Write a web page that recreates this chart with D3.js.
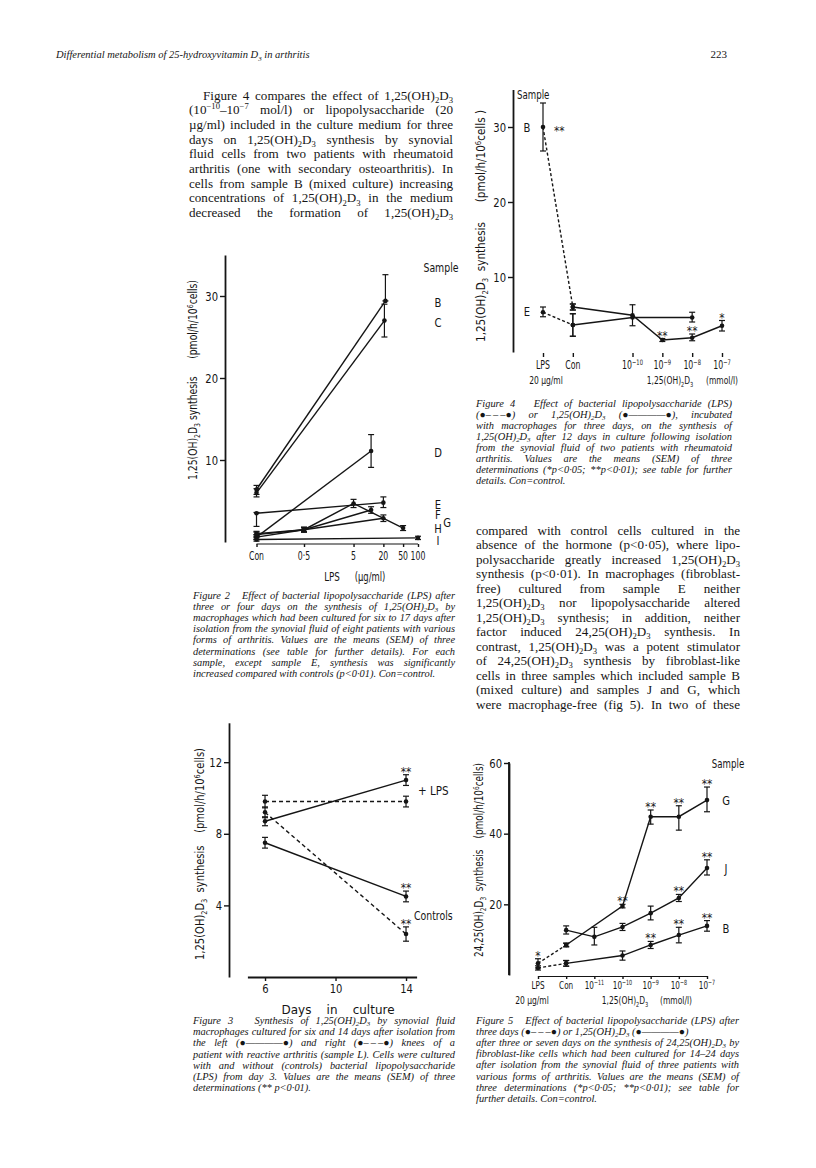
<!DOCTYPE html>
<html><head><meta charset="utf-8">
<script src="https://cdn.jsdelivr.net/npm/d3@7"></script>
<style>body{margin:0;background:#fff}svg{display:block}</style>
</head><body>
<svg id="page" width="816" height="1168"></svg>
<script>
// ================= DATA =================
const headerTitle = "Differential metabolism of 25-hydroxyvitamin D_3 in arthritis";
const pageNumber = "223";

const leftParagraph = [
  "Figure 4 compares the effect of 1,25(OH)_2D_3",
  "(10^{−10}–10^{−7} mol/l) or lipopolysaccharide (20",
  "µg/ml) included in the culture medium for three",
  "days on 1,25(OH)_2D_3 synthesis by synovial",
  "fluid cells from two patients with rheumatoid",
  "arthritis (one with secondary osteoarthritis). In",
  "cells from sample B (mixed culture) increasing",
  "concentrations of 1,25(OH)_2D_3 in the medium",
  "decreased the formation of 1,25(OH)_2D_3"
];
const rightParagraph = [
  "compared with control cells cultured in the",
  "absence of the hormone (p<0·05), where lipo-",
  "polysaccharide greatly increased 1,25(OH)_2D_3",
  "synthesis (p<0·01). In macrophages (fibroblast-",
  "free) cultured from sample E neither",
  "1,25(OH)_2D_3 nor lipopolysaccharide altered",
  "1,25(OH)_2D_3 synthesis; in addition, neither",
  "factor induced 24,25(OH)_2D_3 synthesis. In",
  "contrast, 1,25(OH)_2D_3 was a potent stimulator",
  "of 24,25(OH)_2D_3 synthesis by fibroblast-like",
  "cells in three samples which included sample B",
  "(mixed culture) and samples J and G, which",
  "were macrophage-free (fig 5). In two of these"
];
const DASHED = "●–\u2009–\u2009–●";
const SOLID = "●————●";
const fig2Caption = [
  "Figure 2   Effect of bacterial lipopolysaccharide (LPS) after",
  "three or four days on the synthesis of 1,25(OH)_2D_3 by",
  "macrophages which had been cultured for six to 17 days after",
  "isolation from the synovial fluid of eight patients with various",
  "forms of arthritis. Values are the means (SEM) of three",
  "determinations (see table for further details). For each",
  "sample, except sample E, synthesis was significantly",
  "increased compared with controls (p<0·01). Con=control."
];
const fig4Caption = [
  "Figure 4   Effect of bacterial lipopolysaccharide (LPS)",
  "(" + DASHED + ") or 1,25(OH)_2D_3 (" + SOLID + "), incubated",
  "with macrophages for three days, on the synthesis of",
  "1,25(OH)_2D_3 after 12 days in culture following isolation",
  "from the synovial fluid of two patients with rheumatoid",
  "arthritis. Values are the means (SEM) of three",
  "determinations (*p<0·05; **p<0·01); see table for further",
  "details. Con=control."
];
const fig3Caption = [
  "Figure 3   Synthesis of 1,25(OH)_2D_3 by synovial fluid",
  "macrophages cultured for six and 14 days after isolation from",
  "the left (" + SOLID + ") and right (" + DASHED + ") knees of a",
  "patient with reactive arthritis (sample L). Cells were cultured",
  "with and without (controls) bacterial lipopolysaccharide",
  "(LPS) from day 3. Values are the means (SEM) of three",
  "determinations (** p<0·01)."
];
const fig5Caption = [
  "Figure 5   Effect of bacterial lipopolysaccharide (LPS) after",
  "three days (" + DASHED + ") or 1,25(OH)_2D_3 (" + SOLID + ")",
  "after three or seven days on the synthesis of 24,25(OH)_2D_3 by",
  "fibroblast-like cells which had been cultured for 14–24 days",
  "after isolation from the synovial fluid of three patients with",
  "various forms of arthritis. Values are the means (SEM) of",
  "three determinations (*p<0·05; **p<0·01); see table for",
  "further details. Con=control."
];

// Figure 2: LPS dose (µg/ml); "Con" sits at a nominal 0.055 on the log axis
const fig2TickLabels = ["Con", "0·5", "5", "20", "50", "100"];
const fig2TickConc = [0.055, 0.5, 5, 20, 50, 100];
const fig2YTicks = [10, 20, 30];
const fig2Names = ["B", "C", "D", "E", "F", "G", "H", "I"];
const fig2X  = [[0.055, 22], [0.055, 21], [0.055, 11.3], [0.055, 20], [0.055, 0.5, 11.3], [0.055, 0.5, 20], [0.055, 0.5, 5, 50], [0.055, 100]];
const fig2Y  = [[6.4, 29.4], [6.0, 27.0], [0.6, 11.1], [3.5, 4.8], [0.9, 1.5, 3.9], [0.6, 1.5, 2.9], [1.0, 1.5, 4.7, 1.7], [0.3, 0.5]];
const fig2Lo = [[5.8, 29.4], [5.5, 25.0], [0.3, 9.1], [1.9, 4.2], [0.6, 1.2, 3.5], [0.3, 1.2, 2.5], [0.7, 1.3, 4.2, 1.4], [0.1, 0.3]];
const fig2Hi = [[6.9, 32.6], [6.5, 29.0], [0.9, 13.1], [3.6, 5.5], [1.2, 1.8, 4.3], [0.9, 1.8, 3.3], [1.3, 1.7, 5.2, 2.0], [0.5, 0.7]];
const fig2LabelValues = [29.3, 26.8, 11.0, 4.6, 3.4, 2.4, 1.7, 0.3];

// Figure 4: categories placed by log10 concentration
const fig4Cats = ["LPS", "Con", "10^{−10}", "10^{−9}", "10^{−8}", "10^{−7}"];
const fig4CatPos = [-13, -12, -10, -9, -8, -7];
const fig4YTicks = [10, 20, 30];
const fig4SeriesNames = ["B (LPS)", "B", "E (LPS)", "E"];
const fig4Dashed = [true, false, true, false];
const fig4X  = [[-13, -12], [-12, -10, -9, -8, -7], [-13, -12], [-12, -10, -8]];
const fig4Y  = [[30.0, 6.0], [6.0, 4.9, 1.6, 1.9, 3.5], [5.3, 3.6], [3.6, 4.6, 4.6]];
const fig4Lo = [[26.8, 5.6], [5.6, 3.5, 1.4, 1.5, 2.8], [4.7, 2.1], [2.1, 4.6, 4.0]];
const fig4Hi = [[33.2, 6.4], [6.4, 6.3, 1.8, 2.4, 4.2], [6.0, 5.1], [5.1, 4.6, 5.3]];
const fig4Stars = [["", ""], ["", "", "**", "**", "*"], ["", ""], ["", "", ""]];

// Figure 3: days in culture
const fig3XTicks = [6, 10, 14];
const fig3YTicks = [4, 8, 12];
const fig3Days = [6, 14];
const fig3SeriesNames = ["left knee + LPS", "left knee control", "right knee + LPS", "right knee control"];
const fig3Dashed = [false, false, true, true];
const fig3Y   = [[8.7, 11.0], [7.5, 4.5], [9.8, 9.8], [9.2, 2.4]];
const fig3Err = [[0.25, 0.3], [0.3, 0.3], [0.35, 0.3], [0.3, 0.4]];
const fig3Stars = [["", "**"], ["", "**"], ["", ""], ["", "**"]];

// Figure 5
const fig5Cats = ["LPS", "Con", "10^{−11}", "10^{−10}", "10^{−9}", "10^{−8}", "10^{−7}"];
const fig5YTicks = [20, 40, 60];
const fig5SeriesNames = ["G (LPS)", "B (LPS)", "G", "J", "B"];
const fig5Dashed = [true, true, false, false, false];
const fig5X = [[0, 1], [0, 1], [1, 3, 4, 5, 6], [1, 2, 3, 4, 5, 6], [1, 3, 4, 5, 6]];
const fig5Y  = [[3.3, 8.5], [2.0, 3.3], [8.5, 19.5, 44.8, 44.8, 49.5], [12.7, 10.8, 13.6, 17.5, 21.8, 30.3], [3.3, 5.5, 8.5, 11.3, 13.9]];
const fig5Lo = [[2.0, 8.0], [1.4, 2.5], [8.0, 19.0, 42.7, 41.0, 46.2], [11.6, 8.5, 12.6, 15.6, 20.8, 28.3], [2.5, 4.2, 7.5, 9.1, 12.4]];
const fig5Hi = [[4.6, 9.0], [2.6, 4.1], [9.0, 20.0, 46.7, 47.9, 53.2], [13.9, 13.5, 14.6, 19.5, 22.8, 32.6], [4.1, 6.8, 9.5, 13.5, 15.4]];
const fig5Stars = [["*", ""], ["", ""], ["", "**", "**", "**", "**"], ["", "", "", "", "**", "**"], ["", "", "**", "**", "**"]];
const fig5Labels = ["G", "J", "B"];
const fig5LabelValues = [49.5, 30.3, 13.2];

// ================= HELPERS =================
const svg = d3.select("#page");
const INK = "#151515";
const SERIF = "'Liberation Serif','Times New Roman',serif";
const SANS = "'DejaVu Sans',sans-serif";
const CONDENSE = 0.72;

function rich(text, str, size) {
  const re = /(_\{[^}]*\}|\^\{[^}]*\}|_[^\s{]|\^[^\s{])/g;
  const parts = []; let last = 0, m;
  while ((m = re.exec(str)) !== null) {
    if (m.index > last) parts.push({t: str.slice(last, m.index), k: 0});
    const tok = m[0];
    parts.push({t: tok[1] === "{" ? tok.slice(2, -1) : tok.slice(1), k: tok[0] === "_" ? 1 : -1});
    last = re.lastIndex;
  }
  if (last < str.length) parts.push({t: str.slice(last), k: 0});
  let cur = 0;
  parts.forEach(p => {
    const target = p.k === 1 ? size * 0.24 : p.k === -1 ? -size * 0.36 : 0;
    const ts = text.append("tspan").text(p.t);
    if (target !== cur) ts.attr("dy", target - cur);
    if (p.k) ts.attr("font-size", size * 0.66);
    cur = target;
  });
  return text;
}
function squeeze(t, factor, length) {
  const len = t.node().getComputedTextLength();
  t.attr("textLength", length || len * factor).attr("lengthAdjust", "spacingAndGlyphs");
}
function addText(g, str, x, y, size, opts = {}) {
  const fam = opts.family || SANS;
  const t = g.append("text").attr("x", x).attr("y", y).attr("font-size", size)
    .attr("font-family", fam).attr("fill", INK)
    .style("white-space", "pre");
  if (opts.anchor) t.attr("text-anchor", opts.anchor);
  if (opts.italic) t.attr("font-style", "italic");
  if (opts.rotate) t.attr("transform", `rotate(-90 ${x} ${y})`);
  rich(t, str, size);
  if (fam === SANS) squeeze(t, opts.condense || CONDENSE, opts.length);
  return t;
}
function justify(t, width) {
  const len = t.node().getComputedTextLength();
  const n = (t.text().match(/ /g) || []).length;
  if (n && len < width) t.style("word-spacing", ((width - len) / n) + "px");
}
function textBlock(lines, x, y0, lh, width, size, opts = {}) {
  const g = svg.append("g");
  const ragged = opts.ragged || [];
  lines.forEach((ln, i) => {
    const ix = (opts.indent && i === 0) ? opts.indent : 0;
    const t = addText(g, ln, x + ix, y0 + i * lh, size, {family: SERIF, italic: opts.italic});
    if (!ragged.includes(i)) justify(t, width - ix);
  });
  return g;
}
function styleAxis(a, fs) {
  a.attr("font-family", SANS).attr("font-size", fs);
  a.selectAll("path.domain").attr("stroke", INK).attr("stroke-width", 1.8);
  a.selectAll(".tick line").attr("stroke", INK).attr("stroke-width", 1.4);
  a.selectAll(".tick text").attr("fill", INK).each(function () { squeeze(d3.select(this), 0.8); });
}
function drawSeries(g, xs, ys, lo, hi, xf, yf, dashed, dash, stars) {
  const pts = xs.map((v, i) => ({x: v, y: ys[i], lo: lo[i], hi: hi[i], s: stars ? stars[i] : ""}));
  g.append("path").datum(pts)
    .attr("d", d3.line().x(d => xf(d.x)).y(d => yf(d.y)))
    .attr("fill", "none").attr("stroke", INK).attr("stroke-width", 1.4)
    .attr("stroke-dasharray", dashed ? dash : null);
  const eb = g.append("g").attr("stroke", INK).attr("stroke-width", 1.2);
  pts.filter(d => d.hi - d.lo > 0.01).forEach(d => {
    const cx = xf(d.x);
    eb.append("line").attr("x1", cx).attr("x2", cx).attr("y1", yf(d.lo)).attr("y2", yf(d.hi));
    eb.append("line").attr("x1", cx - 3).attr("x2", cx + 3).attr("y1", yf(d.hi)).attr("y2", yf(d.hi));
    eb.append("line").attr("x1", cx - 3).attr("x2", cx + 3).attr("y1", yf(d.lo)).attr("y2", yf(d.lo));
  });
  g.append("g").selectAll("circle").data(pts).join("circle")
    .attr("cx", d => xf(d.x)).attr("cy", d => yf(d.y)).attr("r", 2.3).attr("fill", INK);
  pts.filter(d => d.s).forEach(d => {
    addText(g, d.s, xf(d.x), yf(d.hi) + 1, 12.5, {anchor: "middle", condense: 0.85});
  });
}

// ================= PAGE TEXT =================
addText(svg, headerTitle, 56, 58, 10.5, {family: SERIF, italic: true});
addText(svg, pageNumber, 727, 58, 11, {family: SERIF, anchor: "end"});

textBlock(leftParagraph, 189, 99.5, 14.7, 264, 13.1, {indent: 14});
textBlock(rightParagraph, 476, 534.5, 14.5, 264, 13.1);
textBlock(fig2Caption, 193, 598.5, 11.2, 262, 10.4, {italic: true, ragged: [7]});
textBlock(fig4Caption, 476, 406.5, 11.1, 256, 10.4, {italic: true, ragged: [7]});
textBlock(fig3Caption, 193, 1024, 11.2, 262, 10.4, {italic: true, ragged: [6]});
textBlock(fig5Caption, 476, 1023.5, 11.2, 263, 10.4, {italic: true, ragged: [1, 7]});

// ================= FIGURE 2 =================
{
  const g = svg.append("g");
  const x = d3.scaleLog().domain([0.5, 100]).range([304, 418]);
  const y = d3.scaleLinear().domain([0, 35]).range([542, 255]);
  const ya = g.append("g").attr("transform", "translate(225,0)")
    .call(d3.axisLeft(y).tickValues(fig2YTicks).tickSize(5).tickSizeOuter(0).tickPadding(2).tickFormat(d3.format("d")));
  styleAxis(ya, 12.5);
  g.append("line").attr("x1", x(fig2TickConc[0])).attr("x2", x(fig2TickConc[fig2TickConc.length - 1]))
    .attr("y1", 544).attr("y2", 544).attr("stroke", INK).attr("stroke-width", 1.2);
  const xa = g.append("g").attr("transform", "translate(0,544)")
    .call(d3.axisBottom(x).tickValues(fig2TickConc).tickSize(3).tickFormat(""));
  xa.select(".domain").remove();
  styleAxis(xa, 12);
  fig2TickConc.forEach((v, i) => addText(g, fig2TickLabels[i], x(v), 559.5, 12.5, {anchor: "middle", condense: 0.62}));
  addText(g, "LPS", 332, 581, 12.5, {anchor: "middle", condense: 0.7});
  addText(g, "(µg/ml)", 370, 581, 12, {anchor: "middle", condense: 0.7});
  addText(g, "1,25(OH)_2D_3 synthesis      (pmol/h/10^6cells)", 197, 380, 12, {anchor: "middle", rotate: true, length: 200});
  addText(g, "Sample", 441, 272, 13, {anchor: "middle"});
  fig2Names.forEach((n, i) => {
    drawSeries(g, fig2X[i], fig2Y[i], fig2Lo[i], fig2Hi[i], x, y, false);
    addText(g, n, n === "G" ? 447 : 438, y(fig2LabelValues[i]) + 5, 12.5, {anchor: "middle", condense: 0.8});
  });
}

// ================= FIGURE 4 =================
{
  const g = svg.append("g");
  const x = d3.scaleLinear().domain([-13, -7]).range([543, 722]);
  const y = d3.scaleLinear().domain([0, 35]).range([352, 89.5]);
  const ya = g.append("g").attr("transform", "translate(513,0)")
    .call(d3.axisLeft(y).tickValues(fig4YTicks).tickSize(5).tickSizeOuter(0).tickPadding(2).tickFormat(d3.format("d")));
  styleAxis(ya, 12.5);
  const xa = g.append("g").attr("transform", "translate(0,353)")
    .call(d3.axisBottom(x).tickValues(fig4CatPos).tickSize(4).tickFormat(""));
  xa.select(".domain").remove();
  styleAxis(xa, 11);
  fig4CatPos.forEach((v, i) => addText(g, fig4Cats[i], x(v), 369, 11.5, {anchor: "middle", condense: 0.68}));
  addText(g, "20 µg/ml", 546, 384, 10.5, {anchor: "middle"});
  addText(g, "1,25(OH)_2D_3", 670, 384, 10.5, {anchor: "middle"});
  addText(g, "(mmol/l)", 722, 384, 10.5, {anchor: "middle"});
  addText(g, "1,25(OH)_2D_3  synthesis      (pmol/h/10^6cells )", 485, 226, 12, {anchor: "middle", rotate: true, length: 232});
  addText(g, "Sample", 517, 99, 12);
  addText(g, "B", 527, y(30) + 5, 12.5, {anchor: "middle", condense: 0.8});
  addText(g, "**", 554, y(30) + 8, 12.5, {condense: 0.85});
  addText(g, "E", 527, y(5.3) + 4, 12.5, {anchor: "middle", condense: 0.8});
  fig4SeriesNames.forEach((n, i) => drawSeries(g, fig4X[i], fig4Y[i], fig4Lo[i], fig4Hi[i], x, y, fig4Dashed[i], "3,2.2", fig4Stars[i]));
}

// ================= FIGURE 3 =================
{
  const g = svg.append("g");
  const x = d3.scaleLinear().domain([5, 14.6]).range([247.4, 416.6]);
  const y = d3.scaleLinear().domain([0, 14.2]).range([977, 722.8]);
  const ya = g.append("g").attr("transform", "translate(229,0)")
    .call(d3.axisLeft(y).tickValues(fig3YTicks).tickSize(5).tickSizeOuter(0).tickPadding(2).tickFormat(d3.format("d")));
  styleAxis(ya, 12.5);
  const xa = g.append("g").attr("transform", "translate(0,977)")
    .call(d3.axisBottom(x).tickValues(fig3XTicks).tickSize(4).tickSizeOuter(0).tickPadding(3.5).tickFormat(d3.format("d")));
  styleAxis(xa, 12.5);
  addText(g, "Days    in    culture", 338, 1013.5, 12.5, {anchor: "middle", length: 113});
  addText(g, "1,25(OH)_2D_3  synthesis    (pmol/h/10^6cells)", 204, 854, 12, {anchor: "middle", rotate: true, length: 212});
  fig3SeriesNames.forEach((n, i) => {
    const lo = fig3Y[i].map((v, j) => v - fig3Err[i][j]);
    const hi = fig3Y[i].map((v, j) => v + fig3Err[i][j]);
    drawSeries(g, fig3Days, fig3Y[i], lo, hi, x, y, fig3Dashed[i], "4,3", fig3Stars[i]);
  });
  addText(g, "+ LPS", 418, 794.5, 13, {condense: 0.8});
  addText(g, "Controls", 414, 920, 13, {condense: 0.72});
}

// ================= FIGURE 5 =================
{
  const g = svg.append("g");
  const x = d3.scalePoint().domain(d3.range(fig5Cats.length)).range([538, 707]);
  const y = d3.scaleLinear().domain([0, 60]).range([975, 763]);
  const ya = g.append("g").attr("transform", "translate(509,0)")
    .call(d3.axisLeft(y).tickValues(fig5YTicks).tickSize(5).tickSizeOuter(0).tickPadding(2).tickFormat(d3.format("d")));
  styleAxis(ya, 12.5);
  g.append("line").attr("x1", 509).attr("x2", 509).attr("y1", 975).attr("y2", 762).attr("stroke", INK).attr("stroke-width", 1.8);
  const xa = g.append("g").attr("transform", "translate(0,976)")
    .call(d3.axisBottom(x).tickSize(3).tickSizeOuter(0).tickFormat(""));
  styleAxis(xa, 11);
  xa.select(".domain").attr("stroke-width", 1.2);
  fig5Cats.forEach((c, i) => addText(g, c, x(i), 989, 11, {anchor: "middle", condense: 0.66}));
  addText(g, "20 µg/ml", 532, 1004, 10.5, {anchor: "middle"});
  addText(g, "1,25(OH)_2D_3", 625, 1004, 10.5, {anchor: "middle"});
  addText(g, "(mmol/l)", 676, 1004, 10.5, {anchor: "middle"});
  addText(g, "24,25(OH)_2D_3  synthesis    (pmol/h/10^6cells)", 483, 860, 12, {anchor: "middle", rotate: true, length: 194});
  addText(g, "Sample", 728, 768, 12, {anchor: "middle"});
  fig5Labels.forEach((n, i) => addText(g, n, 726, y(fig5LabelValues[i]) + 5, 12.5, {anchor: "middle", condense: 0.8}));
  fig5SeriesNames.forEach((n, i) => drawSeries(g, fig5X[i], fig5Y[i], fig5Lo[i], fig5Hi[i], x, y, fig5Dashed[i], "3,2.2", fig5Stars[i]));
}
</script>
</body></html>
